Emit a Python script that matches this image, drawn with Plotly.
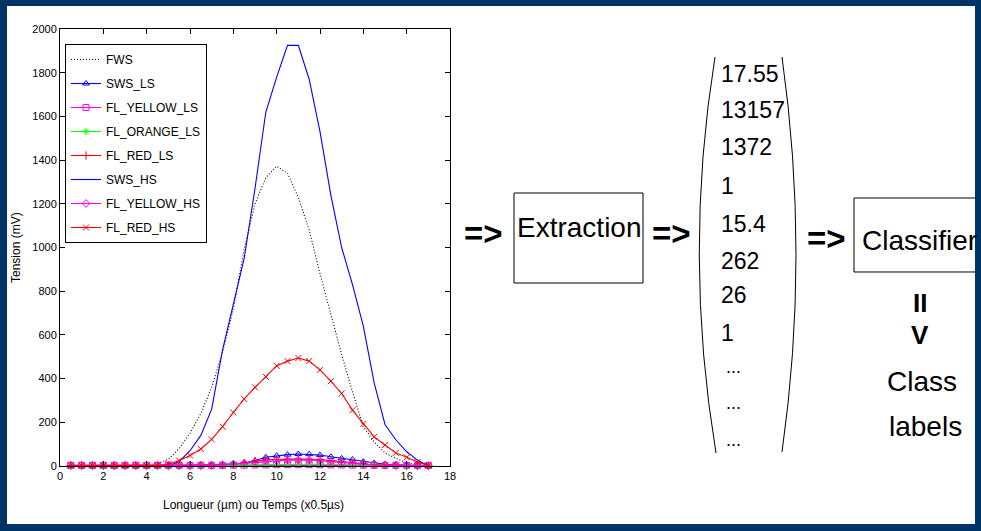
import plotly.graph_objects as go

W, H = 981, 531

# ---------------- data ----------------
x_vals = [0.5, 1.0, 1.5, 2.0, 2.5, 3.0, 3.5, 4.0, 4.5, 5.0, 5.5, 6.0, 6.5, 7.0, 7.5, 8.0, 8.5,
          9.0, 9.5, 10.0, 10.5, 11.0, 11.5, 12.0, 12.5, 13.0, 13.5, 14.0, 14.5, 15.0, 15.5, 16.0, 16.5, 17.0]

fws = [0, 0, 0, 0, 0, 0, 2, 5, 12, 30, 80, 150, 240, 360, 520, 720, 990,
       1200, 1320, 1372, 1340, 1230, 1080, 880, 690, 510, 340, 180, 110, 60, 35, 15, 5, 0]
sws_ls = [0, 0, 0, 0, 0, 0, 0, 0, 0, 1, 2, 3, 4, 5, 7, 10, 14,
          25, 40, 47, 52, 55, 54, 50, 42, 35, 30, 20, 14, 8, 5, 3, 1, 0]
fl_yellow_ls = [3, 3, 3, 3, 3, 3, 3, 3, 3, 3, 3, 3, 3, 3, 3, 4, 4,
                5, 5, 6, 6, 6, 6, 6, 5, 5, 4, 4, 3, 3, 3, 3, 3, 2]
fl_orange_ls = [0, 0, 0, 0, 0, 0, 0, 0, 0, 0, 0, 1, 1, 2, 3, 4, 5,
                6, 7, 8, 8, 8, 8, 8, 7, 6, 5, 4, 3, 2, 1, 1, 0, 0]
fl_red_ls = [2, 2, 2, 2, 2, 2, 2, 2, 2, 2, 2, 2, 3, 4, 6, 8, 14,
             22, 28, 30, 32, 32, 31, 30, 25, 20, 14, 10, 6, 4, 3, 2, 1, 0]
sws_hs = [0, 0, 0, 0, 0, 0, 0, 0, 0, 0, 20, 70, 140, 260, 530, 740, 950,
          1270, 1620, 1780, 1925, 1925, 1770, 1530, 1240, 1000, 830, 640, 380, 190, 120, 65, 27, 0]
fl_yellow_hs = [3, 3, 3, 3, 3, 3, 3, 3, 3, 3, 3, 3, 3, 3, 5, 8, 12,
                18, 22, 25, 27, 28, 27, 25, 20, 15, 11, 8, 6, 5, 4, 3, 3, 2]
fl_red_hs = [2, 2, 2, 2, 2, 2, 2, 2, 2, 8, 25, 48, 78, 122, 180, 245, 307,
             360, 408, 458, 480, 494, 480, 440, 388, 332, 256, 192, 133, 96, 60, 40, 18, 2]

series_names = ["FWS", "SWS_LS", "FL_YELLOW_LS", "FL_ORANGE_LS", "FL_RED_LS",
                "SWS_HS", "FL_YELLOW_HS", "FL_RED_HS"]
series_values = [fws, sws_ls, fl_yellow_ls, fl_orange_ls, fl_red_ls, sws_hs, fl_yellow_hs, fl_red_hs]

x_ticks = [0, 2, 4, 6, 8, 10, 12, 14, 16, 18]
y_ticks = [0, 200, 400, 600, 800, 1000, 1200, 1400, 1600, 1800, 2000]

feature_vector = ["17.55", "13157", "1372", "1", "15.4", "262", "26", "1"]

# ---------------- styles ----------------
styles = [
    dict(color="black", dash="1px,2px", symbol=None),
    dict(color="#0000ff", dash="solid", symbol="triangle-up-open"),
    dict(color="#ff00ff", dash="solid", symbol="square-open"),
    dict(color="#00ff00", dash="solid", symbol="asterisk-open"),
    dict(color="#ff0000", dash="solid", symbol="cross-thin-open"),
    dict(color="#0000ff", dash="solid", symbol=None),
    dict(color="#ff00ff", dash="solid", symbol="diamond-open"),
    dict(color="#ff0000", dash="solid", symbol="x-thin-open"),
]

FONT = "Liberation Sans, Arial, sans-serif"
NAVY = "#003366"


def px(v):
    return v / W


def py(v):
    return 1 - v / H


fig = go.Figure()
for name, vals, st in zip(series_names, series_values, styles):
    mode = "lines+markers" if st["symbol"] else "lines"
    marker = dict(symbol=st["symbol"], size=6, color=st["color"],
                  line=dict(color=st["color"], width=1)) if st["symbol"] else None
    fig.add_trace(go.Scatter(
        x=x_vals, y=vals, name=name, mode=mode,
        line=dict(color=st["color"], dash=st["dash"], width=1.1),
        marker=marker, cliponaxis=False, legendgroup=name,
    ))

axis_common = dict(
    showline=True, linecolor="black", linewidth=1, mirror="ticks",
    ticks="inside", ticklen=5, tickcolor="black", showgrid=False, zeroline=False,
    automargin=False,
    tickfont=dict(family=FONT, size=11, color="black"),
)

fig.update_layout(
    width=W, height=H,
    margin=dict(l=0, r=0, t=0, b=0, pad=0, autoexpand=False),
    paper_bgcolor=NAVY, plot_bgcolor="white",
    xaxis=dict(domain=[px(60), px(450)], range=[0, 18], tickvals=x_ticks, **axis_common),
    yaxis=dict(domain=[py(466), py(29)], range=[0, 2000], tickvals=y_ticks, **axis_common),
    showlegend=True,
    legend=dict(x=px(65), y=py(44), xanchor="left", yanchor="top",
                bgcolor="white", bordercolor="black", borderwidth=1,
                font=dict(family=FONT, size=12, color="black"),
                tracegroupgap=5),
)

annotations = []


def ann(x, y, text, font, xanchor="center", angle=0):
    annotations.append(dict(x=px(x), y=py(y), xref="paper", yref="paper", showarrow=False,
                            text=text, font=font, xanchor=xanchor, yanchor="middle",
                            textangle=angle))


# axis titles
ann(253, 505, "Longueur (µm) ou Temps (x0.5µs)", dict(family=FONT, size=12, color="black"))
ann(16, 248, "Tension (mV)", dict(family=FONT, size=12, color="black"), angle=-90)

big = dict(family=FONT, size=28, color="black")
arrow_font = dict(family=FONT, size=33, color="black")

ann(483, 233, "<b>=&gt;</b>", arrow_font)
ann(579, 227, "Extraction", big)
ann(671, 234, "<b>=&gt;</b>", arrow_font)
ann(826, 238, "<b>=&gt;</b>", arrow_font)
ann(860, 240, "Classifier", dict(family=FONT, size=28, color="black"), xanchor="left")
ann(920, 303, "<b>II</b>", dict(family=FONT, size=26, color="black"))
ann(920, 335, "<b>V</b>", dict(family=FONT, size=26, color="black"))
ann(922, 381, "Class", big)
ann(925, 426, "labels", big)

num_y = [74, 110, 147, 186, 224, 261, 295, 333]
for val, yy in zip(feature_vector, num_y):
    ann(719, yy, val, dict(family=FONT, size=23, color="black"), xanchor="left")
for yy in [367, 403, 440]:
    ann(724, yy, "...", dict(family=FONT, size=18, color="black"), xanchor="left")

fig.update_layout(annotations=annotations)


def P(x, y):
    return f"{px(x):.5f},{py(y):.5f}"


shapes = []
# white page area inside the dark frame
shapes.append(dict(type="rect", xref="paper", yref="paper", layer="below",
                   x0=px(7), x1=px(975), y0=py(524), y1=py(6),
                   line=dict(width=0), fillcolor="white"))
# Extraction box
shapes.append(dict(type="rect", xref="paper", yref="paper",
                   x0=px(514), x1=px(643), y0=py(283), y1=py(193),
                   line=dict(color="black", width=1)))
# Classifier box (open on the right, cut by frame)
shapes.append(dict(type="path", xref="paper", yref="paper",
                   path=f"M {P(980,198)} L {P(854,198)} L {P(854,272)} L {P(980,272)}",
                   line=dict(color="black", width=1)))
# brackets
shapes.append(dict(type="path", xref="paper", yref="paper",
                   path=f"M {P(715,57)} Q {P(683,255)} {P(716,453)}",
                   line=dict(color="black", width=1)))
shapes.append(dict(type="path", xref="paper", yref="paper",
                   path=f"M {P(782,57)} Q {P(810,255)} {P(782,452)}",
                   line=dict(color="black", width=1)))
# dark frame on top (hides the open end of the Classifier box)
for (x0, y0, x1, y1) in [(0, 0, W, 6), (0, 0, 7, H), (975, 0, W, H), (0, 524, W, H)]:
    shapes.append(dict(type="rect", xref="paper", yref="paper", layer="above",
                       x0=px(x0), x1=px(x1), y0=py(y1), y1=py(y0),
                       line=dict(width=0), fillcolor=NAVY))

fig.update_layout(shapes=shapes)

fig.write_html(
    "out.html",
    config={"displayModeBar": False},
    post_script=("document.documentElement.style.margin='0';"
                 "document.body.style.margin='0';"
                 "document.body.style.padding='0';"
                 "document.body.style.overflow='hidden';"
                 "document.body.style.background='" + NAVY + "';"),
)
